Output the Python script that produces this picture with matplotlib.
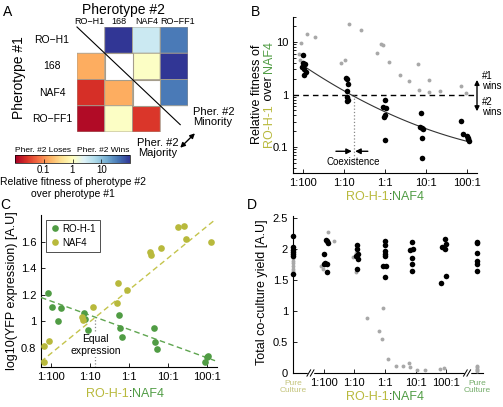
import numpy as np
import matplotlib
matplotlib.use('Agg')
import matplotlib.pyplot as plt
from matplotlib.colors import Normalize, LogNorm
from matplotlib.cm import ScalarMappable
from matplotlib.patches import Rectangle
from matplotlib.ticker import LogLocator, NullFormatter

plt.rcParams['font.family'] = ['Liberation Sans', 'DejaVu Sans']

W, H = 503, 407
YEL = '#b8b93c'
GRN = '#509c44'
GRAY = '#a8a8a8'

# ---------------- data ----------------
strains = ['RO\u2212H1', '168', 'NAF4', 'RO\u2212FF1']
# log10 relative fitness of pherotype #2 (columns) over pherotype #1 (rows)
fitness_log = [[np.nan, 2.0, 0.55, 1.55],
               [-0.8, np.nan, 0.04, 2.0],
               [-1.6, -0.8, np.nan, 1.55],
               [-1.9, 0.04, -1.55, np.nan]]
self_cells = [1, 2]

ratio_ticks = [-2, -1, 0, 1, 2]
ratio_labels = ['1:100', '1:10', '1:1', '10:1', '100:1']

# B: relative fitness vs initial ratio (log10 ratio on x)
b_black_x = [-2.0, -2.0, -1.95, -2.03, -1.97, -1.93, -1.97,
             -0.95, -0.92, -0.9, -0.93, -0.92, -0.9, -0.94,
             0.0, -0.04, 0.02, 0.0, -0.02, 0.0,
             0.88, 0.86, 0.91, 0.93, 0.9, 0.91,
             1.87, 1.9, 2.0, 2.03, 2.02, 2.05]
b_black_y = [5.7, 4.0, 3.85, 3.3, 3.1, 2.65, 2.4,
             2.05, 2.0, 1.6, 1.15, 0.9, 0.8, 0.75,
             0.8, 0.57, 0.55, 0.4, 0.37, 0.135,
             0.45, 0.245, 0.235, 0.225, 0.148, 0.061,
             0.31, 0.175, 0.165, 0.15, 0.14, 0.13]
b_gray_x = [-2.1, -2.05, -2.07, -1.9, -1.7, -1.08, -0.98, -0.87, -0.58, -0.2, -0.1,
            -0.06, 0.1, 0.37, 0.59, 0.8, 0.84, 1.08, 1.08, 1.34, 1.85, 1.98]
b_gray_y = [5.8, 9.5, 4.5, 14, 12.5, 4.0, 4.6, 22, 17, 6.1, 9.2,
            8.6, 4.1, 2.4, 1.85, 3.8, 1.23, 1.9, 1.1, 1.16, 1.48, 1.05]
b_fit = [0.04, -0.36, -0.33]      # quadratic fit in log-log
b_fit_range = [-2.0, 2.0]
b_coexist = -0.77

# C: YFP expression
c_ro_x = [-2.08, -1.98, -1.74, -1.81, -1.15, -1.12, -1.05, -0.25, -0.24, -0.17,
          0.65, 0.67, 0.72, 1.95, 2.0, 2.03]
c_ro_y = [1.21, 1.11, 1.10, 1.005, 1.065, 1.02, 0.93, 1.045, 0.95, 0.88,
          0.95, 0.84, 0.79, 0.695, 0.73, 0.735]
c_naf_x = [-2.18, -2.18, -2.04, -1.2, -1.17, -0.93, -0.29, -0.3, -0.04, 0.54,
           0.55, 0.83, 1.25, 1.4, 1.45, 2.1]
c_naf_y = [0.81, 0.69, 0.85, 1.035, 1.01, 1.11, 1.29, 1.135, 1.235, 1.52,
           1.495, 1.55, 1.71, 1.72, 1.62, 1.6]
c_ro_fit = [-0.107, 0.938]
c_naf_fit = [0.24, 1.236]
c_fit_range = [-2.25, 2.2]
c_equal = -0.86

# D: total yield (x = -3 and 3 are the pure cultures)
d_ticks = [-3, -2, -1, 0, 1, 2, 3]
d_black_x = [-3] * 7 + [-1.93, -1.89, -1.86, -2.0, -1.97, -2.0, -1.9, -1.89] + \
            [-0.91, -0.91, -0.88, -0.93, -0.88, -0.91] + \
            [0.0, 0.0, 0.0, 0.0, 0.0, -0.05, 0.05, 0.0] + \
            [0.87, 0.9, 0.83, 0.87, 0.87, 0.87] + \
            [1.97, 2.0, 1.86, 1.95, 1.99, 1.83] + [3] * 6
d_black_y = [2.21, 2.03, 1.99, 1.95, 1.91, 1.88, 1.6] + \
            [2.15, 2.12, 2.10, 1.91, 1.78, 1.75, 1.75, 1.63] + \
            [2.06, 2.0, 1.92, 1.88, 1.84, 1.68] + \
            [2.12, 2.07, 1.96, 1.92, 1.88, 1.73, 1.73, 1.55] + \
            [2.11, 2.0, 1.98, 1.85, 1.76, 1.65] + \
            [2.16, 2.08, 2.03, 2.0, 1.56, 1.45] + \
            [2.11, 2.09, 1.93, 1.80, 1.76, 1.65]
d_gray_x = [-3] * 6 + [-2.08, -2.03, -1.87, -1.66, -1.04, -0.95, -0.95, -0.9,
            -0.58, -0.2, -0.09, -0.05, 0.09, 0.36, 0.58, 0.79, 0.82, 1.06, 1.31,
            1.8, 1.93] + [3] * 5
d_gray_y = [1.85, 1.80, 1.77, 1.72, 1.67, 1.65] + [1.72, 1.68, 2.28, 2.12, 1.87,
            1.94, 1.62, 1.9, 0.88, 0.67, 0.54, 1.04, 0.23, 0.11, 0.12, 0.16, 0.09,
            0.055, 0.045, 0.065, 0.08] + [0.03, 0.05, 0.07, 0.09, 0.11]
d_breaks = [-2.43, 2.68]


def fx(px):
    return px / W


def fy(py):
    return 1 - py / H


def ftext(px, py, s, **kw):
    return fig.text(fx(px), fy(py), s, **kw)


def color_label(px, py, parts, size, rotation=0):
    # draw a label made of differently coloured pieces, centred on (px, py)
    r = fig.canvas.get_renderer()

    def width(s):
        a = fig.text(0, 0, s + '|', fontsize=size)
        b = fig.text(0, 0, '|', fontsize=size)
        w = a.get_window_extent(r).width - b.get_window_extent(r).width
        a.remove()
        b.remove()
        return w
    full = ''.join(p[0] for p in parts)
    total = width(full)
    prefix = ''
    for s, c in parts:
        off = width(prefix) if prefix else 0
        if rotation == 0:
            ftext(px - total / 2 + off, py, s, color=c, fontsize=size, ha='left', va='center')
        else:
            ftext(px, py + total / 2 - off, s, color=c, fontsize=size, ha='left', va='center',
                  rotation=90, rotation_mode='anchor')
        prefix += s


def style_axes(ax):
    ax.spines['top'].set_visible(False)
    ax.spines['right'].set_visible(False)
    ax.tick_params(which='both', direction='in', labelsize=8, length=3, width=0.6)
    ax.tick_params(which='minor', length=1.8)
    for s in ['left', 'bottom']:
        ax.spines[s].set_linewidth(0.8)


fig = plt.figure(figsize=(W / 100, H / 100), dpi=100)

# ---------------- A: heatmap ----------------
axA = fig.add_axes([fx(77), fy(132), fx(188) - fx(77), fy(27) - fy(132)])
arr = np.ma.masked_invalid(np.array(fitness_log))
axA.pcolor(arr, cmap='RdYlBu', norm=Normalize(-2, 2), edgecolors='#a59d8c', linewidth=0.6)
for i in self_cells:
    axA.add_patch(Rectangle((i, i), 1, 1, facecolor='white', edgecolor='#a59d8c', lw=0.8))
axA.set_xlim(0, 4)
axA.set_ylim(4, 0)
axA.axis('off')
axA.plot([0, 3.72], [0, 3.72], color='k', lw=0.8, clip_on=False)
axA.annotate('', xy=(3.72, 4.6), xytext=(4.25, 4.05), annotation_clip=False,
             arrowprops=dict(arrowstyle='<|-|>', color='k', lw=1, mutation_scale=7,
                             shrinkA=0, shrinkB=0))
col_shift = [-0.05, 0.0, 0.0, 0.12]
for i, s in enumerate(strains):
    axA.text(i + 0.5 + col_shift[i], -0.22, s, ha='center', va='center', fontsize=6.5)
    axA.text(-0.9, i + 0.5, s, ha='center', va='center', fontsize=7.5)
ftext(123, 10, 'Pherotype #2', ha='center', va='center', fontsize=10)
ftext(19, 78, 'Pherotype #1', ha='center', va='center', fontsize=10, rotation=90)
ftext(193, 117, 'Pher. #2\nMinority', ha='left', va='center', fontsize=8, linespacing=1.1)
ftext(158, 148, 'Pher. #2\nMajority', ha='center', va='center', fontsize=8, linespacing=1.1)

cax = fig.add_axes([fx(15), fy(163), fx(130) - fx(15), fy(155) - fy(163)])
cb = fig.colorbar(ScalarMappable(norm=LogNorm(0.01, 100), cmap='RdYlBu'), cax=cax,
                  orientation='horizontal')
cb.set_ticks([0.1, 1, 10])
cb.set_ticklabels(['0.1', '1', '10'])
cax.xaxis.set_minor_locator(LogLocator(subs=np.arange(2, 10)))
cax.xaxis.set_minor_formatter(NullFormatter())
cax.tick_params(which='both', direction='in', labelsize=7, pad=1.5, width=0.5)
cax.tick_params(which='major', length=3)
cax.tick_params(which='minor', length=1.5)
cb.outline.set_linewidth(0.5)
ftext(15, 150, 'Pher. #2 Loses', ha='left', va='center', fontsize=6)
ftext(129, 150, 'Pher. #2 Wins', ha='right', va='center', fontsize=6)
ftext(73, 188, 'Relative fitness of pherotype #2\nover pherotype #1', ha='center',
      va='center', fontsize=7.5, linespacing=1.2)

# ---------------- B: relative fitness ----------------
axB = fig.add_axes([fx(293), fy(173), fx(477) - fx(293), fy(17) - fy(173)])
axB.set_yscale('log')
axB.axhline(1, color='k', ls='--', lw=1, dashes=(4, 3), zorder=1)
axB.plot([b_coexist, b_coexist], [0.06, 1], color='#888888', ls=':', lw=0.9, zorder=1)
xs = np.linspace(b_fit_range[0], b_fit_range[1], 100)
axB.plot(xs, 10 ** np.polyval(b_fit, xs), color='#333333', lw=0.8, zorder=2)
axB.plot(b_gray_x, b_gray_y, 'o', color=GRAY, ms=2.8, mew=0, zorder=3)
axB.plot(b_black_x, b_black_y, 'o', color='k', ms=4, mew=0, zorder=4)
axB.set_xlim(-2.25, 2.25)
axB.set_ylim(0.032, 30)
axB.set_xticks(ratio_ticks)
axB.set_xticklabels(ratio_labels)
axB.set_yticks([0.1, 1, 10])
axB.set_yticklabels(['0.1', '1', '10'])
axB.yaxis.set_minor_locator(LogLocator(subs=np.arange(2, 10)))
axB.yaxis.set_minor_formatter(NullFormatter())
style_axes(axB)
ay = 0.083
axB.annotate('', xy=(b_coexist - 0.04, ay), xytext=(-1.2, ay),
             arrowprops=dict(arrowstyle='-|>', color='k', lw=1, mutation_scale=8, shrinkA=0, shrinkB=0))
axB.annotate('', xy=(b_coexist + 0.04, ay), xytext=(-0.42, ay),
             arrowprops=dict(arrowstyle='-|>', color='k', lw=1, mutation_scale=8, shrinkA=0, shrinkB=0))
axB.text(b_coexist, 0.052, 'Coexistence', ha='center', va='center', fontsize=7)
axB.annotate('', xy=(2.25, 1.9), xytext=(2.25, 0.48), annotation_clip=False,
             arrowprops=dict(arrowstyle='<|-|>', color='k', lw=1, mutation_scale=7, shrinkA=0, shrinkB=0))
ftext(482, 81, '#1\nwins', ha='left', va='center', fontsize=7, linespacing=1.1)
ftext(482, 107, '#2\nwins', ha='left', va='center', fontsize=7, linespacing=1.1)

# ---------------- C: YFP expression ----------------
axC = fig.add_axes([fx(41), fy(367), fx(217) - fx(41), fy(215) - fy(367)])
axC.plot([c_equal, c_equal], [0.6, 1.03], color='#888888', ls=':', lw=0.9, zorder=1)
axC.text(c_equal, 0.82, 'Equal\nexpression', ha='center', va='center', fontsize=7.5,
         linespacing=1.3, zorder=2, bbox=dict(facecolor='white', edgecolor='none', pad=0.5))
xl = np.array(c_fit_range)
axC.plot(xl, np.polyval(c_naf_fit, xl), color='#c4c44c', ls='--', lw=1, dashes=(4, 2.5), zorder=3)
axC.plot(xl, np.polyval(c_ro_fit, xl), color='#5fa550', ls='--', lw=1, dashes=(4, 2.5), zorder=3)
axC.plot(c_ro_x, c_ro_y, 'o', color=GRN, ms=4.8, mew=0, zorder=4, label='RO-H-1')
axC.plot(c_naf_x, c_naf_y, 'o', color=YEL, ms=4.8, mew=0, zorder=4, label='NAF4')
axC.set_xlim(-2.25, 2.25)
axC.set_ylim(0.655, 1.8)
axC.set_xticks(ratio_ticks)
axC.set_xticklabels(ratio_labels)
axC.set_yticks([0.8, 1.0, 1.2, 1.4, 1.6])
axC.set_yticklabels(['0.8', '1', '1.2', '1.4', '1.6'])
style_axes(axC)
leg = axC.legend(loc='upper left', fontsize=7, frameon=True, fancybox=False, borderpad=0.4,
                 handletextpad=0.3, handlelength=1.0, labelspacing=0.4, borderaxespad=0.5)
leg.get_frame().set_edgecolor('k')
leg.get_frame().set_linewidth(0.6)

# ---------------- D: total yield ----------------
axD = fig.add_axes([fx(293), fy(373), fx(483) - fx(293), fy(216) - fy(373)])
axD.plot(d_gray_x, d_gray_y, 'o', color=GRAY, ms=2.8, mew=0, zorder=3, clip_on=False)
axD.plot(d_black_x, d_black_y, 'o', color='k', ms=4, mew=0, zorder=4, clip_on=False)
axD.set_xlim(-3, 3.2)
axD.set_ylim(0, 2.53)
axD.set_xticks(d_ticks)
axD.set_xticklabels([''] + ratio_labels + [''])
axD.set_yticks([0, 0.5, 1, 1.5, 2, 2.5])
axD.set_yticklabels(['0', '0.5', '1', '1.5', '2', '2.5'])
style_axes(axD)
tr = axD.get_xaxis_transform()
for xb in d_breaks:
    axD.plot([xb - 0.05, xb + 0.05], [0, 0], color='white', lw=2.5, transform=tr,
             clip_on=False, zorder=5)
    for dx in (-0.055, 0.055):
        axD.plot([xb + dx - 0.06, xb + dx + 0.06], [-0.02, 0.02], color='k', lw=0.7,
                 transform=tr, clip_on=False, zorder=6)
axD.text(-3, -0.045, 'Pure\nCulture', transform=tr, ha='center', va='top', fontsize=6,
         color='#c4c47a', linespacing=0.95)
axD.text(3, -0.045, 'Pure\nCulture', transform=tr, ha='center', va='top', fontsize=6,
         color='#74ad6a', linespacing=0.95)

# ---------------- axis labels & panel letters ----------------
ftext(257, 94, 'Relative fitness of', ha='center', va='center', fontsize=9, rotation=90)
color_label(269, 94, [('RO-H-1', YEL), (' over ', 'k'), ('NAF4', GRN)], 9, rotation=90)
color_label(385, 197, [('RO-H-1', YEL), (':', 'k'), ('NAF4', GRN)], 9)
color_label(125, 394, [('RO-H-1', YEL), (':', 'k'), ('NAF4', GRN)], 9)
color_label(385, 397, [('RO-H-1', YEL), (':', 'k'), ('NAF4', GRN)], 9)
ftext(12, 291, 'log10(YFP expression) [A.U]', ha='center', va='center', fontsize=9, rotation=90)
ftext(262, 292, 'Total co-culture yield [A.U]', ha='center', va='center', fontsize=9, rotation=90)

for lab, px, py in [('A', 8, 12), ('B', 256, 12), ('C', 5, 205), ('D', 252, 205)]:
    ftext(px, py, lab, ha='center', va='center', fontsize=10)

fig.savefig('out.png', dpi=100)
